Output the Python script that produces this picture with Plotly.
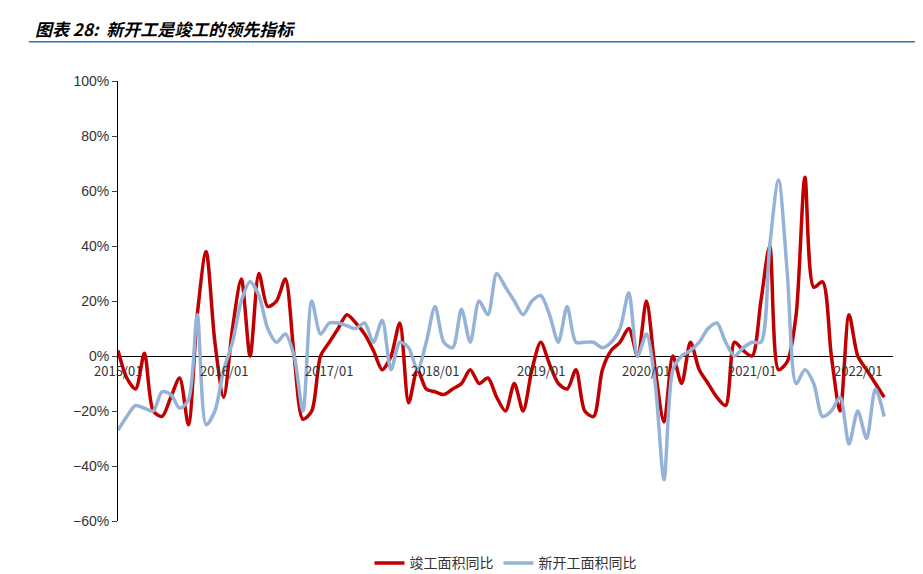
import plotly.graph_objects as go

months = list(range(88))
completed = [2,-8,-12,1,-20,-22,-15,-8,-25,15,38,5,-15,10,28,0,30,18,20,28,0,-23,-20,0,5,10,15,12,8,2,-5,0,12,-17,-5,-12,-13,-14,-12,-10,-5,-10,-8,-15,-20,-10,-20,-5,5,-3,-10,-12,-5,-20,-22,-5,2,5,10,0,20,-5,-24,0,-10,5,-5,-10,-15,-18,5,2,0,20,40,-5,-2,15,65,25,27,0,-20,15,0,-5,-10,-15]
started = [-27,-22,-18,-19,-20,-13,-14,-19,-16,15,-25,-20,-5,5,20,27,22,10,5,8,0,-20,20,8,12,12,11,10,12,5,13,-5,5,3,-5,5,18,5,3,17,5,20,15,30,25,20,15,20,22,15,5,18,5,5,5,3,5,10,23,0,8,-10,-45,-5,0,2,5,10,12,5,0,3,5,5,40,64,30,-10,-5,-10,-22,-20,-15,-32,-20,-30,-12,-22]
tick_pos = [0,12,24,36,48,60,72,84]
tick_labels = ["2015/01","2016/01","2017/01","2018/01","2019/01","2020/01","2021/01","2022/01"]

fig = go.Figure()
fig.add_trace(go.Scatter(x=months, y=completed, mode="lines", name="竣工面积同比",
                         line=dict(color="#C00000", width=3.5, shape="spline", smoothing=0.8)))
fig.add_trace(go.Scatter(x=months, y=started, mode="lines", name="新开工面积同比",
                         line=dict(color="#95B3D7", width=3.5, shape="spline", smoothing=0.8)))
for p, t in zip(tick_pos, tick_labels):
    fig.add_annotation(x=p, y=0, text=t, showarrow=False, yanchor="top", yshift=-3,
                       font=dict(size=13, color="#333"))
fig.add_annotation(xref="paper", yref="paper", x=-0.11, y=1.12, xanchor="left", yanchor="middle",
                   text="<b><i>图表 28:  新开工是竣工的领先指标</i></b>", showarrow=False,
                   font=dict(size=17, color="#000", family="Noto Sans CJK SC"))
fig.add_shape(type="line", xref="paper", yref="paper", x0=-0.115, x1=1.05, y0=1.089, y1=1.089,
              line=dict(color="#2E75B6", width=1.5))
fig.update_layout(
    width=923, height=574, plot_bgcolor="white", paper_bgcolor="white",
    margin=dict(l=110, r=38, t=73, b=61, autoexpand=False),
    font=dict(family="Noto Sans CJK SC, Liberation Sans", size=14, color="#333"),
    xaxis=dict(range=[0, 88], showticklabels=False, showgrid=False, zeroline=False, showline=False,
               automargin=False),
    yaxis=dict(range=[-60, 100], dtick=20, ticksuffix="%", showgrid=False, zeroline=True,
               zerolinecolor="#000", zerolinewidth=1.2, showline=True, linecolor="#000",
               ticks="outside", ticklen=5, automargin=False,
               tickfont=dict(family="Liberation Sans", size=14)),
    legend=dict(orientation="h", x=0.5, xanchor="center", y=-0.06, yanchor="top",
                font=dict(size=14)),
)
fig.write_html("out.html")
